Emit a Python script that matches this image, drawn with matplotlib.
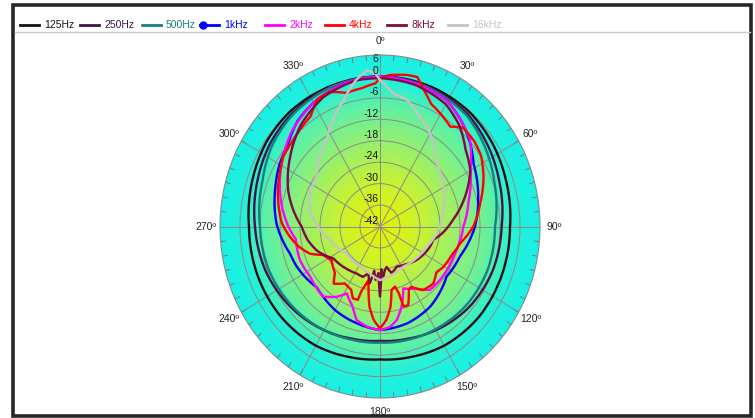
#!/usr/bin/env python3
"""
指向性极坐标图 (各频段 dB)
"""
import matplotlib
matplotlib.use('Agg')
import matplotlib.pyplot as plt
from matplotlib.colors import LinearSegmentedColormap
from matplotlib.lines import Line2D
from matplotlib.patches import Rectangle
from matplotlib.transforms import ScaledTranslation
import numpy as np

plt.rcParams['font.family'] = ['Liberation Sans', 'DejaVu Sans']

# 数据 (角度 deg, 电平 dB)
ang_125 = [0, 20, 40, 55, 70, 90, 110, 130, 150, 165, 180, 195, 210, 230, 250, 270, 290, 305, 320, 340]
db_125 = [0, 0, -0.2, -1, -2, -3, -3, -3, -3.5, -4.3, -4.8, -4.3, -3.5, -3, -2.8, -2.7, -1.5, -0.5, 0, 0]

ang_250 = ang_125
db_250 = [0, -0.3, -1, -2.5, -4, -5.5, -6, -7, -8.5, -9.5, -10, -9.5, -8.5, -7, -5.5, -4.5, -3, -1.7, -0.8, -0.2]

ang_500 = ang_125
db_500 = [0, -0.5, -1.5, -3.5, -5.5, -7.5, -7.5, -8, -8.8, -9.2, -9.5, -9.2, -8.5, -7.5, -6.5, -6, -4.5, -2.5, -1.2, -0.3]

ang_1k = [0, 15, 30, 40, 50, 58, 75, 90, 109, 125, 146, 163, 180, 194, 210, 221, 228, 246, 254, 271,
          288, 300, 309, 320, 330, 345]
db_1k = [0, -0.5, -1.5, -3.8, -6.5, -8.9, -11.5, -13.5, -16.6, -17.6, -15, -13.7, -13, -14, -15, -16, -16.5,
         -14.6, -14, -11, -8.9, -7.2, -6.2, -3.5, -2, -0.5]

ang_2k = [0, 15, 30, 48, 60, 75, 90, 111, 130, 140, 148, 158, 164, 169, 174, 180, 188, 195, 200, 208,
          213.5, 221, 236, 249, 262, 270, 286, 301, 315, 330, 345]
db_2k = [0, -0.5, -1.5, -5.7, -10.7, -14.5, -17, -18.4, -18.6, -18.8, -21.5, -23.3, -18.6, -15.4, -13.7,
         -13, -13.7, -14.9, -18.1, -20.8, -18.4, -16, -16.8, -16.2, -16.5, -14.5, -10.9, -7.6, -4.5, -2, -0.5]

ang_4k = [0, 4, 11, 15, 19, 24, 30, 37, 42, 50, 57, 66, 78, 90, 101, 110, 121, 127, 135, 144,
          151, 154, 159, 162.5, 163, 165, 169, 172, 176, 180, 184, 188, 191, 193, 197, 198, 202, 206, 213.5, 221,
          226, 237, 245, 250, 257, 264, 272, 288, 296, 304, 313, 326, 332, 338, 345, 352, 358]
db_4k = [-0.5, 0.5, 1.2, 1.3, -1.6, -4.4, -5.6, -7, -4.8, -5, -5.8, -8, -11.3, -14, -17.5, -19, -19.9, -20.8,
         -19.4, -20, -22.7, -22.3, -18.4, -18.5, -22.3, -24.6, -23.9, -19.3, -15.7, -13.5, -15.7, -19.3, -24,
         -26.6, -23.4, -20.4, -20.3, -22.3, -22.9, -20.8, -23.2, -24.7, -23.2, -19.7, -17, -14.8, -12.5, -9.8,
         -8.5, -7, -6.5, -4.8, -1.8, -1.4, -3.3, -2.9, -1.9]

ang_8k = [0, 15, 30, 40, 50, 60, 76, 85, 95, 103, 111, 130, 145, 156, 165, 170, 173, 176, 178, 180,
          182, 185, 188, 191, 195, 200, 208, 220, 237.5, 250, 260, 270, 290, 306, 320, 335, 350]
db_8k = [-0.5, -1, -2.5, -5, -8.5, -10.7, -16.7, -20, -23, -25.6, -26, -27.5, -29, -29.7, -28.5, -30.5,
         -29.8, -28, -30, -22.4, -29, -27, -29.5, -25.8, -28.5, -27, -27.1, -26.5, -25.4, -22, -20, -18.5,
         -12.7, -8.7, -5, -2, -0.5]

ang_16k = [0, 6, 13, 21, 27, 35, 44, 60, 76, 90, 112, 130, 148, 165, 180, 193, 210, 233, 256, 267,
           282, 295, 306, 315, 326.5, 332, 343, 350, 355, 358]
db_16k = [-1, -4.5, -5.7, -9, -10.8, -14, -17.5, -20, -22.4, -24, -26.9, -28, -28.8, -28, -27, -28.5,
          -29.5, -29.5, -26.5, -24, -20.5, -19, -18.4, -16, -13, -10.3, -4.9, -0.4, 1.9, 1]

labels = ['125Hz', '250Hz', '500Hz', '1kHz', '2kHz', '4kHz', '8kHz', '16kHz']
colors = ['#1c1018', '#3e1548', '#15807e', '#0000ff', '#ff00ff', '#ff0000', '#7c0c40', '#c4c4c4']
series = [(ang_125, db_125), (ang_250, db_250), (ang_500, db_500), (ang_1k, db_1k),
          (ang_2k, db_2k), (ang_4k, db_4k), (ang_8k, db_8k), (ang_16k, db_16k)]

r_ticks = [6, 0, -6, -12, -18, -24, -30, -36, -42]
theta_ticks = list(range(0, 360, 30))

W, H = 755, 418
fig = plt.figure(figsize=(W / 100, H / 100), dpi=100)
fig.patch.set_facecolor('white')

ax = fig.add_axes([220 / W, 20 / H, 320 / W, 343 / H], projection='polar')
ax.set_aspect('auto')
ax.set_theta_zero_location('N')
ax.set_theta_direction(-1)
ax.set_ylim(-42, 6)

# 背景渐变
cmap = LinearSegmentedColormap.from_list('bg', [(0, '#e6f200'), (0.25, '#ccf230'), (0.5, '#96f070'),
                                                (0.72, '#5cf0a8'), (0.84, '#26f0d8'), (1, '#18f0e6')])
th = np.linspace(0, 2 * np.pi, 361)
rr = np.linspace(-42, 6, 97)
T, R = np.meshgrid(th, rr)
ax.pcolormesh(T, R, (R + 42) / 48, cmap=cmap, vmin=0, vmax=1, shading='gouraud', zorder=0)

# 网格
ax.set_xticks(np.deg2rad(theta_ticks))
ax.set_xticklabels([f'{t}º' for t in theta_ticks])
ax.set_yticks(r_ticks[1:-1])
ax.set_yticklabels([])
ax.grid(True, color='#8a8a8a', lw=0.7)
ax.tick_params(axis='x', which='major', length=0, pad=3, labelsize=7.5, labelcolor='#222222')
ax.tick_params(axis='y', length=0)
ax.spines['polar'].set_color('#8a8a8a')
ax.spines['polar'].set_linewidth(0.8)

# 外圈刻度 (每 5°)
ax.vlines(np.deg2rad(np.arange(0, 360, 5)), 4.4, 6, color='#7a7a7a', lw=0.7, zorder=2)

off = ScaledTranslation(-1 / 72, 0.5 / 72, fig.dpi_scale_trans)
for v in r_ticks:
    ax.text(0, v, str(v), ha='right', va='bottom' if v != 6 else 'top',
            fontsize=7.5, color='#111111', transform=ax.transData + off, zorder=6)

# 曲线 (闭合, 末点接回 360°)
for (a, d), c, lab in zip(series, colors, labels):
    a = np.deg2rad(list(a) + [a[0] + 360])
    d = list(d) + [d[0]]
    ln, = ax.plot(a, d, color=c, lw=1.7, label=lab, zorder=3)
    ln.get_path()._interpolation_steps = 40

# 图例
handle_x = [20, 80, 142, 200, 265, 325, 387, 448]
ly = 1 - 25 / H
for x0, c, lab in zip(handle_x, colors, labels):
    fig.add_artist(Line2D([x0 / W, (x0 + 19) / W], [ly, ly], color=c, lw=2, transform=fig.transFigure))
    if lab == '1kHz':
        fig.add_artist(Line2D([(x0 + 3) / W], [ly], marker='o', ms=5, color=c, transform=fig.transFigure))
    fig.text((x0 + 24) / W, ly, lab, color=c, fontsize=7.5, va='center', ha='left')

# 分隔线和边框
fig.add_artist(Line2D([15 / W, 750 / W], [1 - 32 / H, 1 - 32 / H], color='#cccccc', lw=1,
                      transform=fig.transFigure))
fig.add_artist(Rectangle((13 / W, 2.5 / H), 738 / W, 411 / H, fill=False, ec='#262626', lw=2.6,
                         transform=fig.transFigure))

plt.savefig('out.png', dpi=100)
plt.close()
